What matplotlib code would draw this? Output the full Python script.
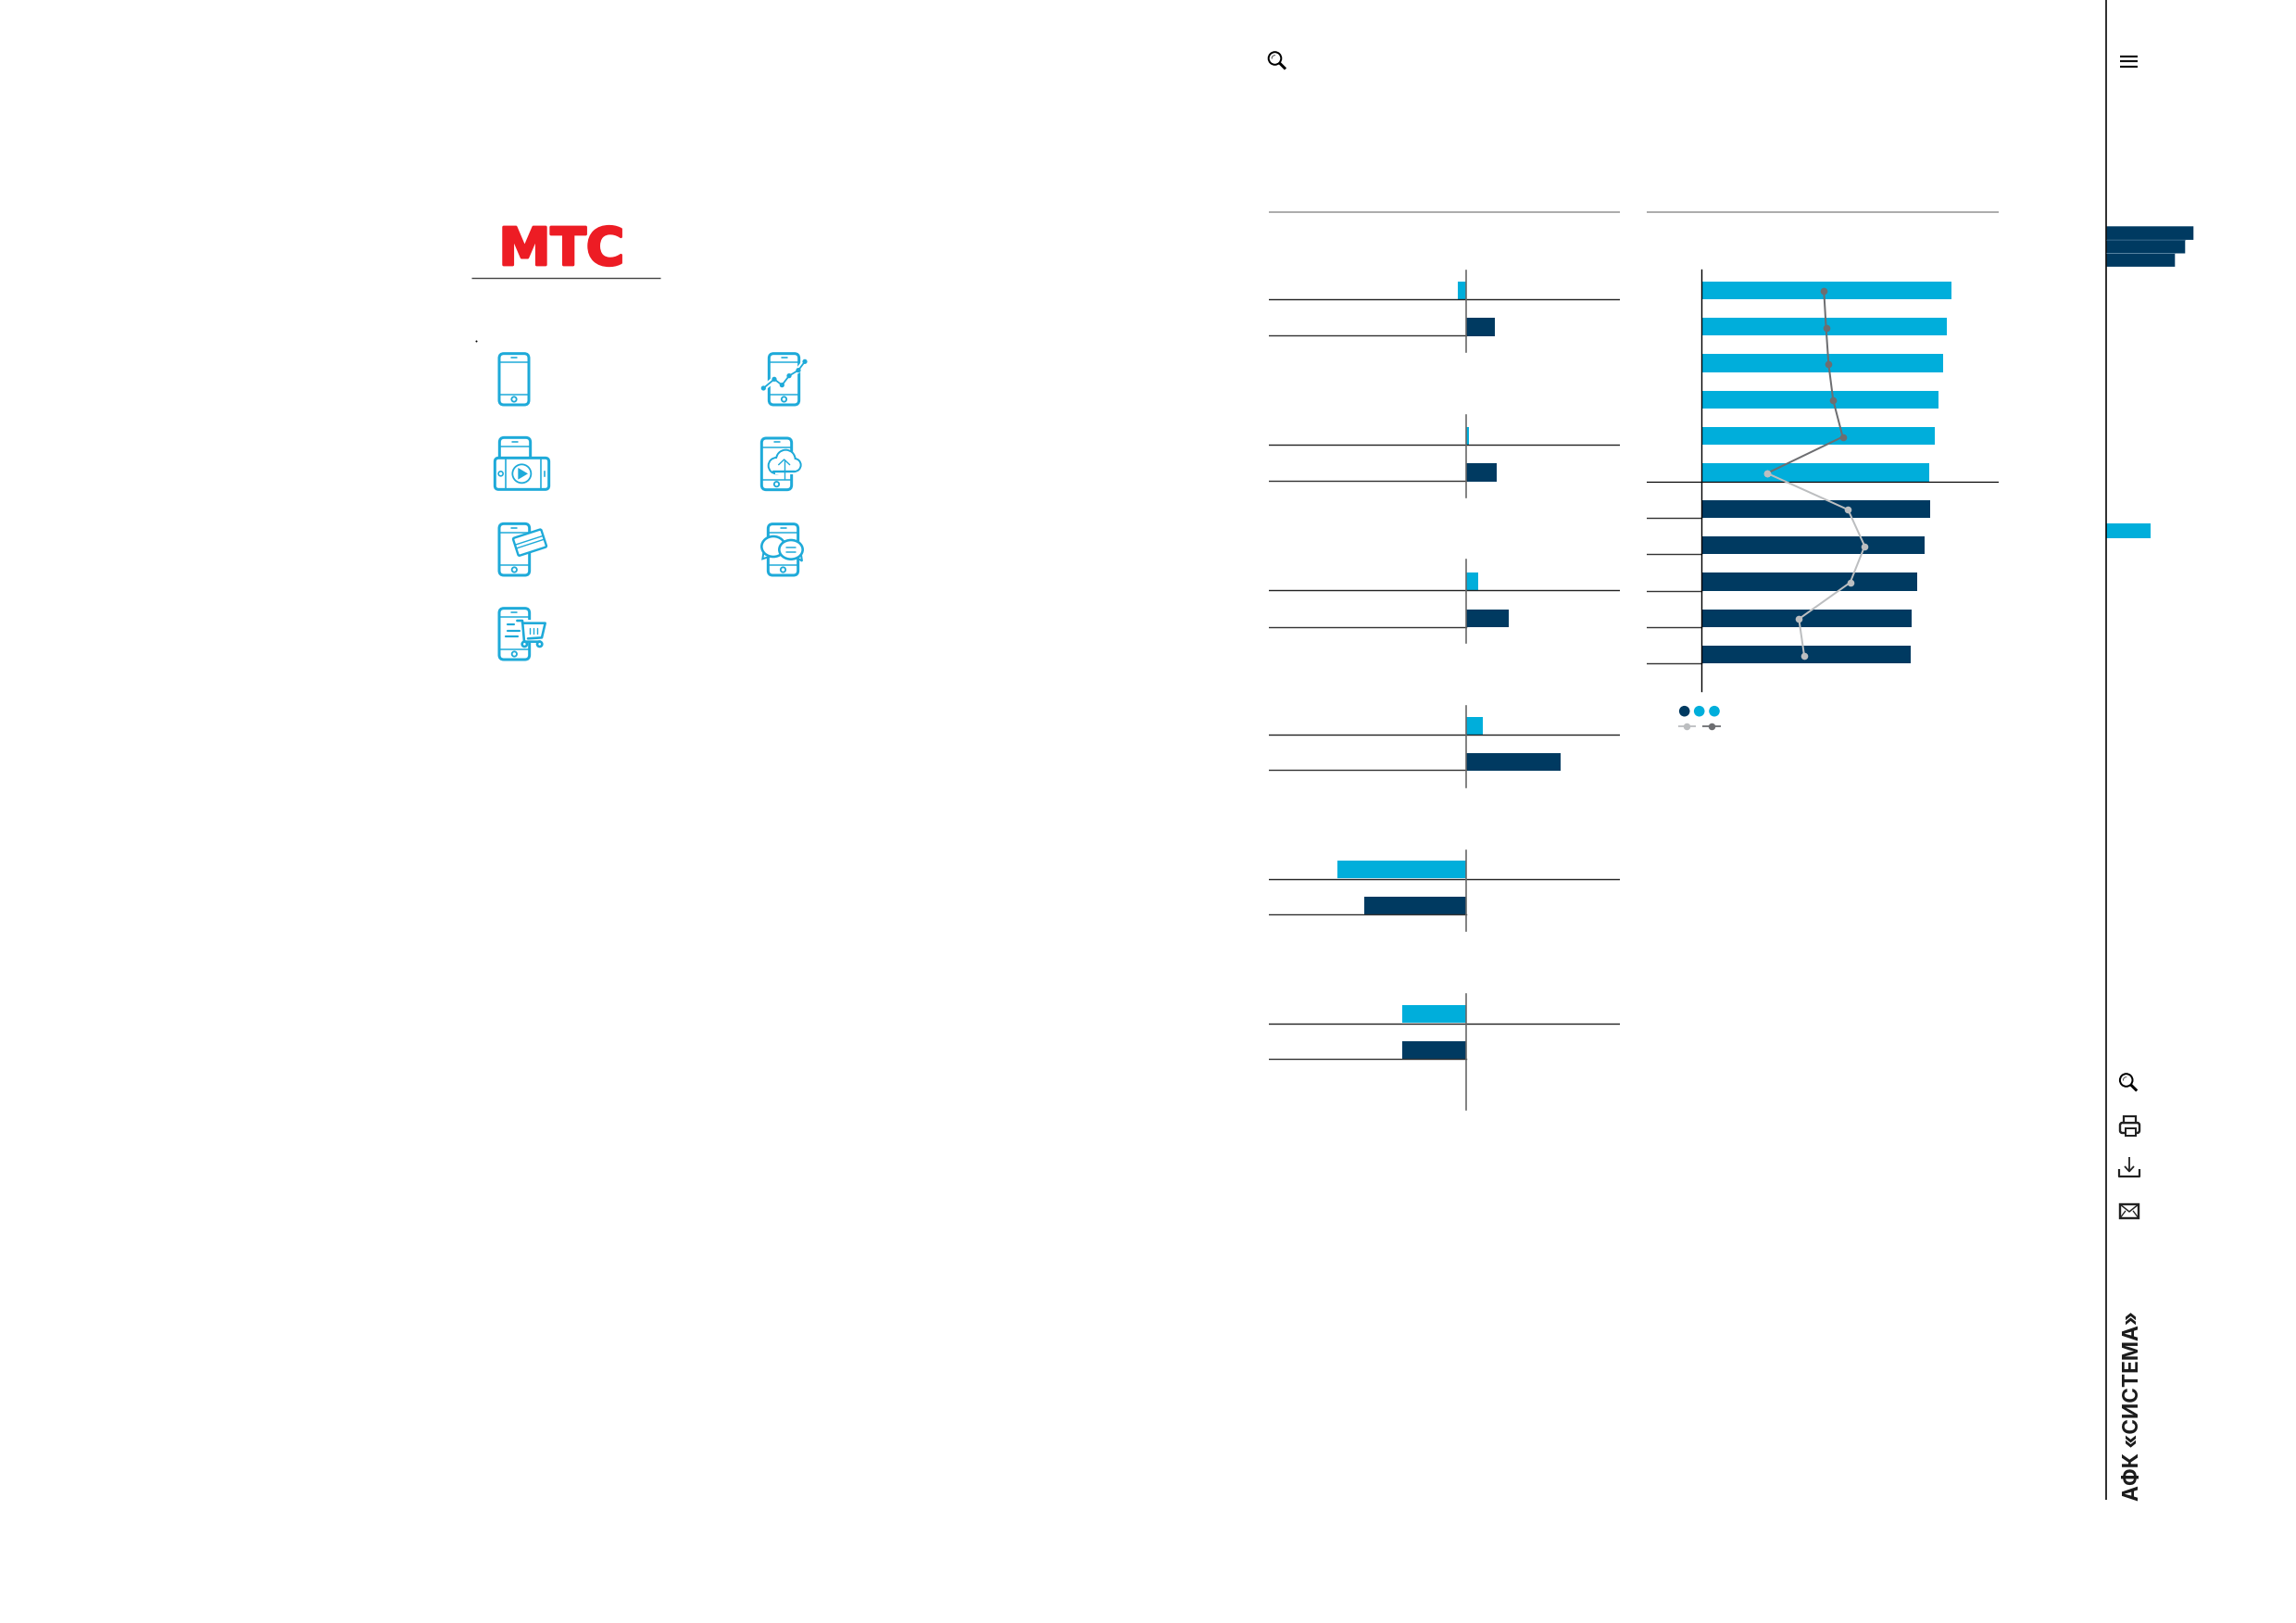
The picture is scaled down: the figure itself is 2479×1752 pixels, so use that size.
import matplotlib
matplotlib.use('Agg')
import matplotlib.pyplot as plt
from matplotlib.patches import Arc, Circle, Ellipse, FancyBboxPatch, Rectangle, Polygon
from matplotlib import patheffects
from matplotlib.transforms import Affine2D

W, H = 2479, 1752
LIGHT = '#00aedb'
DARK = '#003a61'
ICON = '#1eaad9'
GRAY = '#6d6e71'
PALE = '#bcbec0'

# change per group, two bars each (no labels in the picture, units are arbitrary)
left_light = [-8.7, 3, 12.7, 17.7, -138.7, -69.3]
left_dark = [30.7, 33, 46.3, 102.3, -110, -69.3]

# eleven horizontal bars
right_light = [269.4, 265, 260.7, 256, 251.3, 245.3]
right_dark = [246.7, 240.3, 233, 226.7, 225.3]
line_upper = [132, 134.3, 137, 142, 152.3, 70.7]
line_lower = [70.7, 158, 176, 160.3, 105, 110.7]

# side menu bars
menu_dark = [94, 85, 74]
menu_light = [48]

px = 0.72  # one pixel in points at dpi 100

fig = plt.figure(figsize=(W / 100, H / 100), dpi=100, facecolor='white')


def axes_px(x0, y0, x1, y1):
    a = fig.add_axes([x0 / W, 1 - y1 / H, (x1 - x0) / W, (y1 - y0) / H])
    a.axis('off')
    return a


# overlay in pixel coordinates for rules, icons, legend
ov = axes_px(0, 0, W, H)
ov.set_xlim(0, W)
ov.set_ylim(H, 0)


def seg(xs, ys, c='black', lw=1.3):
    ov.plot(xs, ys, color=c, lw=lw * px, solid_capstyle='butt')


# ---- left chart
L0, L1 = 1370, 1749
zero_x = 1583
lax = axes_px(L0, 229, L1, 1205)
lax.set_xlim(L0 - zero_x, L1 - zero_x)
lax.set_ylim(1205, 229)

axis_top = [292, 448, 604, 762, 917.6, 1073.3]
axis_end = [380, 537.3, 693.8, 849.8, 1005.4, 1198.2]
light_y = [313.7, 470.5, 627.8, 783.4, 938.6, 1094.7]
dark_y = [353, 510, 667.7, 822.7, 977.7, 1133.7]
line_a = [323.3, 480, 637.3, 793, 949, 1104.9]
line_b = [362, 518.7, 676.7, 831.5, 986.8, 1143.2]

for i in range(6):
    lax.barh(light_y[i], left_light[i], height=19.4, color=LIGHT)
    lax.barh(dark_y[i], left_dark[i], height=19.4, color=DARK)
    lax.plot([L0 - zero_x, L1 - zero_x], [line_a[i], line_a[i]], color='#222222', lw=1.4 * px)
    lax.plot([L0 - zero_x, 0], [line_b[i], line_b[i]], color='#333333', lw=1.4 * px)
    lax.plot([0, 0], [axis_top[i], axis_end[i]], color='#666666', lw=1.6 * px)

# ---- right chart
R0, R1 = 1778.3, 2157.7
bar0 = 1837.3
rax = axes_px(R0, 229, R1, 750)
rax.set_xlim(R0 - bar0, R1 - bar0)
rax.set_ylim(750, 229)

ypos = [313.4 + 39.33 * i for i in range(11)]
rax.barh(ypos[:6], right_light, height=19.4, color=LIGHT)
rax.barh(ypos[6:], right_dark, height=19.4, color=DARK)
for y in ypos[6:]:
    rax.plot([R0 - bar0, 0], [y + 9.6, y + 9.6], color='#333333', lw=1.4 * px)
rax.plot([R0 - bar0, R1 - bar0], [ypos[5] + 9.6, ypos[5] + 9.6], color='black', lw=1.2 * px)
rax.plot([0, 0], [291.3, 745.7], color='black', lw=1.4 * px)
rax.plot(line_lower, [y + 0.8 for y in ypos[5:]], color=PALE, lw=2 * px, marker='o', ms=7.6 * px, mew=0)
rax.plot(line_upper[:5], [y + 0.8 for y in ypos[:5]], color=GRAY, lw=2 * px, marker='o', ms=7.6 * px, mew=0)
rax.plot(line_upper[4:], [y + 0.8 for y in ypos[4:6]], color=GRAY, lw=2 * px)
rax.plot(line_upper[5:], [ypos[5] + 0.8], color=PALE, marker='o', ms=7.6 * px, mew=0)

# legend marks
for x, c in zip([1818.7, 1834.7, 1851], [DARK, LIGHT, LIGHT]):
    ov.add_patch(Circle((x, 767.7), 5.8, color=c, lw=0))
seg([1812.3, 1831], [784.3, 784.3], PALE, 1.8)
ov.plot([1821.3], [784.3], 'o', color=PALE, ms=7.5 * px, mew=0)
seg([1838.3, 1858], [784.3, 784.3], GRAY, 1.8)
ov.plot([1848], [784.3], 'o', color=GRAY, ms=7.5 * px, mew=0)

# top rules
seg([L0, L1], [229, 229], '#999999', 1.6)
seg([R0, R1], [229, 229], '#999999', 1.6)

# ---- logo block
ov.text(538.5, 286, 'МТС', color='#ed1c24', family='DejaVu Sans', weight='bold', fontsize=40.5,
        va='baseline', ha='left',
        path_effects=[patheffects.withStroke(linewidth=2, foreground='#ed1c24')])
seg([509, 713], [300, 300], '#444444', 1.4)
ov.plot([514.3], [368], 'o', color='black', ms=2 * px, mew=0)


# ---- icons, coordinates taken from the crop of that region
def Z(x, y):
    return 490 + x / 3, 220 + y / 3


def zline(pts, lw=2.6, c=ICON, zorder=3):
    xy = [Z(*p) for p in pts]
    ov.plot([p[0] for p in xy], [p[1] for p in xy], color=c, lw=lw * px, solid_capstyle='round',
            solid_joinstyle='round', zorder=zorder)


def zcirc(x, y, r, fill='none', lw=2.6, zorder=3, ec=ICON):
    ov.add_patch(Circle(Z(x, y), r / 3, fc=fill, ec=ec, lw=lw * px, zorder=zorder))


def phone(x0, y0, x1, y1):
    a, b = Z(x0, y0), Z(x1, y1)
    ov.add_patch(FancyBboxPatch((a[0] + 4, a[1] + 4), b[0] - a[0] - 8, b[1] - a[1] - 8,
                                boxstyle='round,pad=4,rounding_size=5', fc='none', ec=ICON,
                                lw=3 * px, zorder=3))
    zline([(x0, y0 + 29), (x1, y0 + 29)], 1.5)
    zline([(x0, y1 - 32), (x1, y1 - 32)], 1.5)
    zline([((x0 + x1) / 2 - 9, y0 + 13), ((x0 + x1) / 2 + 9, y0 + 13)], 1.6)
    zcirc((x0 + x1) / 2, y1 - 18, 8, lw=1.8)


# plain phone
phone(147, 485, 243, 651)

# video
phone(148, 757, 248, 930)
z0, z1 = Z(133, 823), Z(308, 925)
ov.add_patch(FancyBboxPatch((z0[0] + 4, z0[1] + 4), z1[0] - z0[0] - 8, z1[1] - z0[1] - 8,
                            boxstyle='round,pad=4,rounding_size=4', fc='white', ec=ICON,
                            lw=3 * px, zorder=3.1))
ov.add_patch(Rectangle(Z(120, 926), 70, 8, fc='white', ec='none', zorder=3.05))
for xz in (167, 283):
    a = Z(xz, 823)
    ov.plot([a[0], a[0]], [a[1], a[1] + 34], color=ICON, lw=1.6 * px, zorder=3.2)
ov.add_patch(Circle(Z(220, 874), 10, fc='none', ec=ICON, lw=1.8 * px, zorder=3.2))
ov.add_patch(Polygon([Z(208, 855), Z(208, 893), Z(240, 874)], fc=ICON, ec='none', zorder=3.2))
ov.add_patch(Circle(Z(152, 874), 2.5, fc='none', ec=ICON, lw=1.6 * px, zorder=3.2))
a = Z(293, 866)
ov.plot([a[0], a[0]], [a[1], a[1] + 5], color=ICON, lw=1.6 * px, zorder=3.2)

# card
phone(147, 1036, 245, 1203)
card_tr = Affine2D().rotate_deg(-18).translate(*Z(246, 1097)) + ov.transData
ov.add_patch(FancyBboxPatch((-15, -9), 30, 18, boxstyle='round,pad=1,rounding_size=1.5', fc='white', ec=ICON,
                            lw=2.4 * px, zorder=3.4, transform=card_tr))
for off in (-2.5, 1.5):
    ov.plot([-15, 15], [off, off], color=ICON, lw=1.4 * px, zorder=3.5, transform=card_tr)

# cart
phone(147, 1310, 245, 1476)
ov.add_patch(Polygon([Z(205, 1345), Z(300, 1350), Z(290, 1420), Z(220, 1420)], fc='white', ec='none', zorder=3.3))
zline([(205, 1350), (222, 1350), (228, 1418), (280, 1418)], 2.6, zorder=3.4)
zline([(222, 1358), (296, 1358), (285, 1405), (240, 1408)], 2.6, zorder=3.4)
zline([(175, 1363), (194, 1363)], 2.2, zorder=3.4)
zline([(175, 1382), (214, 1382)], 2.2, zorder=3.4)
zline([(168, 1401), (208, 1401)], 2.2, zorder=3.4)
for xz in (245, 258, 271):
    zline([(xz, 1374), (xz, 1392)], 1.4, zorder=3.4)
for xz in (229, 278):
    zcirc(xz, 1426, 8, fill='white', lw=2.6, zorder=3.5)

# growth
phone(1021, 485, 1118, 651)
growth_icon = [(1003, 597), (1038, 568), (1063, 587), (1086, 557), (1116, 539), (1137, 511)]
zline(growth_icon, 6, 'white', zorder=3.3)
zline(growth_icon, 1.8, zorder=3.4)
for p in growth_icon:
    ov.add_patch(Circle(Z(*p), 2.6, fc=ICON, ec='none', zorder=3.5))

# cloud
phone(997, 759, 1094, 926)
for x, y, r in [(1045, 848, 25), (1075, 828, 30), (1103, 846, 20)]:
    zcirc(x, y, r, fill='white', lw=2.6, zorder=3.3)
for x, y, r in [(1045, 848, 23), (1075, 828, 28), (1103, 846, 18)]:
    zcirc(x, y, r, fill='white', lw=0, zorder=3.4, ec='white')
a, b = Z(1040, 866), Z(1105, 866)
ov.add_patch(Rectangle((a[0], a[1] - 5), b[0] - a[0], 8, fc='white', ec='none', zorder=3.45))
zline([(1035, 866), (1104, 866)], 2.4, zorder=3.5)
zline([(1070, 890), (1070, 830)], 1.4, zorder=3.6)
zline([(1052, 845), (1070, 828), (1088, 845)], 1.4, zorder=3.6)

# chat
phone(1018, 1037, 1115, 1203)
ov.add_patch(Polygon([Z(1003, 1130), Z(1000, 1150), Z(1030, 1140)], fc='white', ec=ICON, lw=2 * px, zorder=3.3))
ov.add_patch(Ellipse(Z(1035, 1110), 76 / 3, 66 / 3, fc='white', ec=ICON, lw=2.6 * px, zorder=3.35))
ov.add_patch(Polygon([Z(1110, 1145), Z(1128, 1157), Z(1124, 1130)], fc='white', ec=ICON, lw=2 * px, zorder=3.4))
ov.add_patch(Ellipse(Z(1092, 1120), 76 / 3, 62 / 3, fc='white', ec=ICON, lw=2.6 * px, zorder=3.45))
for yz in (1114, 1128):
    zline([(1078, yz), (1106, yz)], 1.5, zorder=3.6)


# ---- black tool icons
def search_icon(cx, cy):
    ov.add_patch(Circle((cx - 3, cy - 2), 6.8, fc='none', ec='black', lw=2 * px))
    ov.add_patch(Arc((cx - 3, cy - 2), 6.6, 6.6, theta1=170, theta2=280, ec='#444444', lw=0.9 * px))
    seg([cx + 1.8, cx + 8.5], [cy + 2.8, cy + 9.5], 'black', 3)


search_icon(1379.5, 65)
search_icon(2298.7, 1168)

# menu button
for y in (60.9, 66.4, 72):
    seg([2289, 2308], [y, y], '#111111', 2.2)

# printer
ov.add_patch(FancyBboxPatch((2290.5, 1213.5), 18, 8, boxstyle='round,pad=1.5,rounding_size=2.5', fc='none',
                            ec='#222222', lw=2.4 * px))
ov.add_patch(Rectangle((2293, 1205), 13, 7, fc='white', ec='#222222', lw=2.2 * px))
ov.add_patch(Rectangle((2295, 1217.5), 11, 8, fc='white', ec='#222222', lw=2 * px))

# download
seg([2288, 2288, 2310, 2310], [1262, 1269.5, 1269.5, 1262], '#222222', 2.2)
seg([2299, 2299], [1249, 1264], '#222222', 1.8)
seg([2294, 2299, 2304], [1259, 1264.5, 1259], '#222222', 1.8)

# mail
ov.add_patch(Rectangle((2289, 1300), 20, 15, fc='none', ec='#222222', lw=2.4 * px))
seg([2289, 2299, 2309], [1300, 1308, 1300], '#222222', 1.5)
seg([2289, 2295], [1315, 1307], '#222222', 1.3)
seg([2309, 2303], [1315, 1307], '#222222', 1.3)

# ---- side panel
seg([2274.3, 2274.3], [0, 1619.3], 'black', 1.6)
for y, w in zip([244.3, 258.9, 273.3], menu_dark):
    ov.add_patch(Rectangle((2274.3, y), w, 14.6, fc=DARK, ec='none', snap=False))
seg([2274.3, 2274.3 + menu_dark[1]], [258.9, 258.9], '#35678c', 0.7)
seg([2274.3, 2274.3 + menu_dark[2]], [273.3, 273.3], '#5d87a5', 0.9)
ov.add_patch(Rectangle((2274.3, 565.2), menu_light[0], 16.2, fc=LIGHT, ec='none'))
ov.text(2303, 1620, 'АФК «СИСТЕМА»', rotation=90, family='Inter', weight='bold', fontsize=16.3,
        color='#1a1a1a', ha='center', va='bottom')

fig.savefig('out.png', dpi=100, facecolor='white')
